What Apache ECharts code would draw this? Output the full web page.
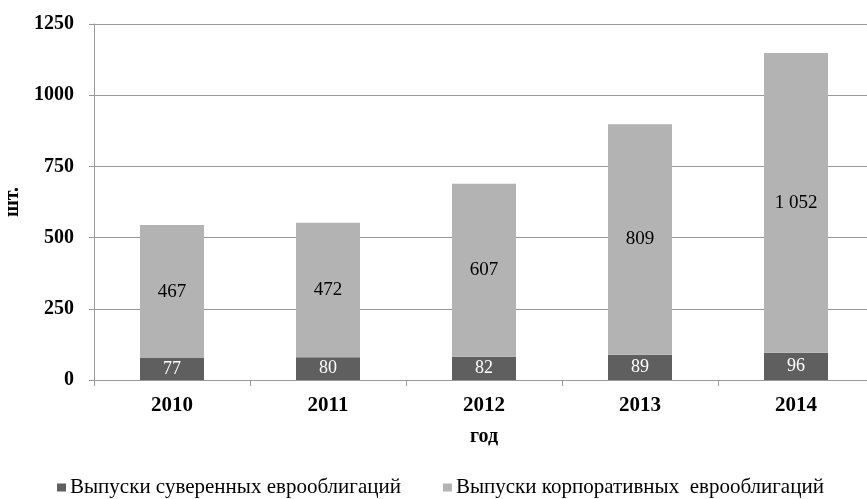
<!DOCTYPE html>
<html><head><meta charset="utf-8">
<script src="https://cdn.jsdelivr.net/npm/echarts@6/dist/echarts.min.js"></script>
<style>html,body{margin:0;padding:0;background:#fff;overflow:hidden}#c{width:867px;height:499px}</style>
</head><body><div id="c"></div>
<script>
const categories = ['2010','2011','2012','2013','2014'];
const sovereign = [77, 80, 82, 89, 96];
const corporate = [467, 472, 607, 809, 1052];
const seriesNames = ['Выпуски суверенных еврооблигаций', 'Выпуски корпоративных  еврооблигаций'];
const yTicks = [0, 250, 500, 750, 1000, 1250];

const serif = '"Liberation Serif","DejaVu Serif",serif';
const fmt = v => String(v).replace(/\B(?=(\d{3})+(?!\d))/g, ' ');
const chart = echarts.init(document.getElementById('c'));
chart.setOption({
  animation: false,
  textStyle: {fontFamily: serif},
  grid: {left: 94, width: 780, top: 24, bottom: 119, containLabel: false, outerBoundsMode: 'none'},
  legend: {
    top: 472, left: 52, itemWidth: 9, itemHeight: 8, icon: 'rect', itemGap: 42,
    textStyle: {fontFamily: serif, fontSize: 21, color: '#000', padding: [0, 0, 0, -1]},
    data: seriesNames
  },
  xAxis: {
    type: 'category', data: categories,
    name: 'год', nameLocation: 'middle', nameGap: 47,
    nameTextStyle: {fontFamily: serif, fontSize: 20, fontWeight: 'bold', color: '#000'},
    axisLine: {lineStyle: {color: '#9a9a9a'}},
    axisTick: {show: true, length: 6, lineStyle: {color: '#9a9a9a'}},
    axisLabel: {fontFamily: serif, fontSize: 21, fontWeight: 'bold', color: '#000', margin: 15}
  },
  yAxis: {
    type: 'value', min: 0, max: 1250, interval: 250,
    name: 'шт.', nameLocation: 'middle', nameGap: 54, nameRotate: 90,
    nameTextStyle: {fontFamily: serif, fontSize: 20, fontWeight: 'bold', color: '#000'},
    axisLine: {show: true, lineStyle: {color: '#9a9a9a'}},
    axisTick: {show: true, length: 5, lineStyle: {color: '#9a9a9a'}},
    splitLine: {lineStyle: {color: '#9a9a9a'}},
    axisLabel: {fontFamily: serif, fontSize: 20, fontWeight: 'bold', color: '#000', margin: 20,
      formatter: v => yTicks.includes(v) ? String(v) : ''}
  },
  series: [
    {name: seriesNames[0], type: 'bar', stack: 't', data: sovereign, barWidth: 64,
     itemStyle: {color: '#5f5f5f'},
     label: {show: true, position: 'inside', color: '#fff', fontFamily: serif, fontSize: 18, formatter: p => fmt(p.value)}},
    {name: seriesNames[1], type: 'bar', stack: 't', data: corporate, barWidth: 64,
     itemStyle: {color: '#b3b3b3'},
     label: {show: true, position: 'inside', color: '#000', fontFamily: serif, fontSize: 19, formatter: p => fmt(p.value)}}
  ]
});
</script></body></html>
